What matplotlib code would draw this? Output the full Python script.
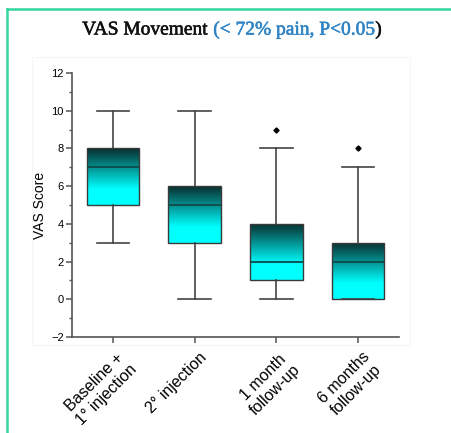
import numpy as np
import matplotlib
matplotlib.use("Agg")
import matplotlib.pyplot as plt
from matplotlib.patches import Rectangle
from matplotlib.lines import Line2D
from matplotlib.transforms import ScaledTranslation
import matplotlib.patheffects as pe

categories = ["Baseline +\n1° injection", "2° injection", "1 month\nfollow-up", "6 months\nfollow-up"]
whislo = [3, 0, 0, 0]
q1 = [5, 3, 1, 0]
med = [7, 5, 2, 2]
q3 = [8, 6, 4, 3]
whishi = [10, 10, 8, 7]
fliers = [[], [], [9], [8]]
yticks = [-2, 0, 2, 4, 6, 8, 10, 12]

fig = plt.figure(figsize=(4.52, 4.33), dpi=100)
W, H = 452, 433

# green frame
fig.add_artist(Line2D([7 / W, 7 / W], [0, 1 - 9 / H], color="#33d69f", lw=1.8))
fig.add_artist(Line2D([7 / W, 1], [1 - 9 / H, 1 - 9 / H], color="#33d69f", lw=1.8))
# faint plot-region frame
fig.add_artist(Rectangle((32 / W, 1 - 345 / H), (410 - 32) / W, (345 - 57) / H,
                         transform=fig.transFigure, fill=False, edgecolor="#f6f6f6", lw=0.8))

ax = fig.add_axes([72 / W, 1 - 337 / H, (399 - 72) / W, (337 - 73) / H])

stats = []
for i in range(4):
    stats.append(dict(whislo=whislo[i], q1=q1[i], med=med[i], q3=q3[i],
                      whishi=whishi[i], fliers=fliers[i]))
pos = np.arange(1, 5)
bw = 0.64
bp = ax.bxp(stats, positions=pos, widths=bw, patch_artist=True, showfliers=True,
            boxprops=dict(facecolor="none", edgecolor="#3a3a3a", lw=1.0),
            medianprops=dict(color="#0d4a4a", lw=1.3),
            whiskerprops=dict(color="#444444", lw=1.2),
            capprops=dict(color="#444444", lw=1.2),
            capwidths=0.4,
            flierprops=dict(marker="D", markersize=2.6, markerfacecolor="black",
                            markeredgecolor="black"))

dark = np.array([8, 45, 45]) / 255.0
cyan = np.array([0, 255, 255]) / 255.0
n = 200
f = np.linspace(0, 1, n)  # 0 = top
t = np.clip(f / 0.72, 0, 1)
cols = dark[None, :] * (1 - t[:, None]) + cyan[None, :] * t[:, None]
img = cols[:, None, :]
for i, b in enumerate(bp["boxes"]):
    x = pos[i]
    im = ax.imshow(img, extent=[x - bw / 2, x + bw / 2, q1[i], q3[i]],
                   aspect="auto", origin="upper", zorder=1.5, interpolation="bilinear")
    im.set_clip_path(b)
    b.set_zorder(2.5)
for m in bp["medians"]:
    m.set_zorder(3)

ax.set_xlim(0.5, 4.5)
ax.set_ylim(-2, 12)
ax.set_yticks(yticks)
ax.set_yticks(np.arange(-1, 12, 2), minor=True)
ax.set_xticks(pos)
for s in ["top", "right"]:
    ax.spines[s].set_visible(False)
for s in ["left", "bottom"]:
    ax.spines[s].set_color("#555555")
    ax.spines[s].set_linewidth(1.2)
ax.tick_params(axis="y", which="major", length=4, width=1.1, color="#555555",
               labelsize=8, pad=2)
ax.tick_params(axis="y", which="minor", length=2.5, width=1.0, color="#555555")
ax.tick_params(axis="x", which="major", length=4, width=1.1, color="#555555", pad=5)
ax.set_xticklabels(categories, rotation=45, ha="right", va="top",
                   rotation_mode="anchor", multialignment="center",
                   fontsize=11.5, family="Liberation Sans", linespacing=1.2)
off = ScaledTranslation(4 / 100, 0, fig.dpi_scale_trans)
for lbl in ax.get_xticklabels():
    lbl.set_transform(lbl.get_transform() + off)
for lbl in ax.get_yticklabels():
    lbl.set_family("Liberation Sans")
ax.set_ylabel("VAS Score", fontsize=10, family="Liberation Sans", labelpad=3)
ax.set_xlabel("")
ax.set_facecolor("none")

# title in two colours
ty = 1 - 30 / H
fs = 14
t1 = fig.text(86 / W, ty, "VAS Movement ", fontsize=fs, family="Liberation Serif",
              color="#111111", va="center", ha="left")
t2 = fig.text(0, 0, "(< 72% pain, P<0.05", fontsize=fs, family="Liberation Serif",
              color="#2f84c6", va="center", ha="left")
t3 = fig.text(0, 0, ")", fontsize=fs, family="Liberation Serif",
              color="#111111", va="center", ha="left")
for tt in (t1, t2, t3):
    tt.set_path_effects([pe.withStroke(linewidth=0.4, foreground=tt.get_color())])
fig.canvas.draw()
r = fig.canvas.get_renderer()
w1 = t1.get_window_extent(r).width / W
w2 = t2.get_window_extent(r).width / W
w3 = t3.get_window_extent(r).width / W
total = w1 + w2 + w3
x0 = 232 / W - total / 2
t1.set_position((x0, ty))
t2.set_position((x0 + w1, ty))
t3.set_position((x0 + w1 + w2, ty))

fig.savefig("out.png", dpi=100)
